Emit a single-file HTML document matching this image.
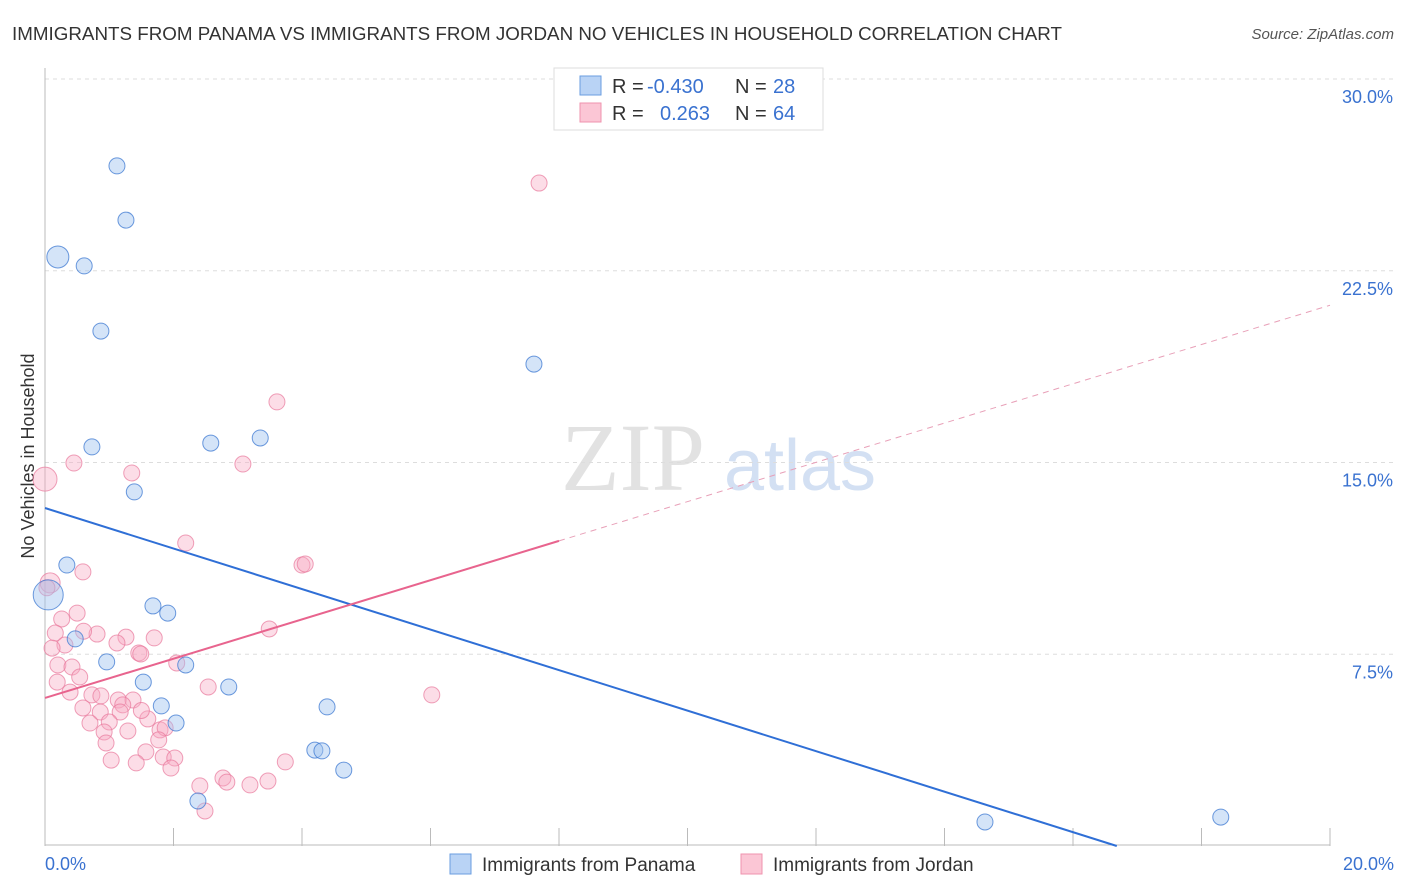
<!DOCTYPE html>
<html><head><meta charset="utf-8"><style>
body{margin:0;background:#fff;font-family:"Liberation Sans",sans-serif;}
#wrap{position:relative;width:1406px;height:892px;overflow:hidden;}
</style></head><body>
<div id="wrap">
<svg id="svg" width="1406" height="892" xmlns="http://www.w3.org/2000/svg">
<text x="12" y="40" font-size="18" fill="#333" textLength="1050" lengthAdjust="spacingAndGlyphs">IMMIGRANTS FROM PANAMA VS IMMIGRANTS FROM JORDAN NO VEHICLES IN HOUSEHOLD CORRELATION CHART</text>
<text x="1394" y="39" font-size="15" fill="#555" text-anchor="end" font-style="italic">Source: ZipAtlas.com</text>
<text transform="translate(34,456) rotate(-90)" font-size="18" fill="#333" text-anchor="middle">No Vehicles in Household</text>
<g><text x="633" y="490" font-size="96" fill="#e2e2e2" font-family="Liberation Serif,serif" text-anchor="middle">ZIP</text><text x="800" y="490" font-size="72" fill="#d3e0f3" text-anchor="middle">atlas</text></g>
<g id="grid"></g><g id="marks"></g>
<g>
<rect x="554" y="68" width="269" height="62" fill="#fff" stroke="#ddd"/>
<rect x="580" y="76" width="21" height="19" fill="#b9d3f5" stroke="#6a9ee0"/>
<rect x="580" y="103" width="21" height="19" fill="#fbc6d5" stroke="#ef93ae"/>
<g font-size="20"><text x="612" y="93" fill="#333">R =</text><text x="647" y="93" fill="#3a72d0">-0.430</text><text x="735" y="93" fill="#333">N =</text><text x="773" y="93" fill="#3a72d0">28</text>
<text x="612" y="120" fill="#333">R =</text><text x="660" y="120" fill="#3a72d0">0.263</text><text x="735" y="120" fill="#333">N =</text><text x="773" y="120" fill="#3a72d0">64</text></g>
</g>
<g>
<rect x="450" y="854" width="21" height="20" fill="#b9d3f5" stroke="#6a9ee0"/><text x="482" y="871" font-size="19" fill="#333">Immigrants from Panama</text>
<rect x="741" y="854" width="21" height="20" fill="#fbc6d5" stroke="#ef93ae"/><text x="773" y="871" font-size="19" fill="#333">Immigrants from Jordan</text>
</g>
</svg></div>
<script>
const yTicks=[7.5,15,22.5,30];
const yTickLabels=["7.5%","15.0%","22.5%","30.0%"];
const xTicks=[0,2,4,6,8,10,12,14,16,18,20];
const panamaX=[1.12,1.26,0.20,0.61,0.87,7.61,0.73,2.58,3.35,1.39,0.34,0.05,1.68,1.91,0.47,0.96,2.19,1.53,2.86,1.81,4.39,2.04,4.20,4.31,4.65,2.38,14.63,18.30];
const panamaY=[26.60,24.48,23.04,22.69,20.14,18.85,15.61,15.76,15.96,13.85,10.99,9.82,9.39,9.11,8.10,7.20,7.08,6.41,6.22,5.48,5.44,4.81,3.75,3.72,2.97,1.76,0.94,1.13];
const panamaR=[8,8,11,8,8,8,8,8,8,8,8,15,8,8,8,8,8,8,8,8,8,8,8,8,8,8,8,8];
const jordanX=[2.19,4.00,4.05,0.59,0.08,0.50,0.26,0.16,0.81,1.26,1.12,1.70,3.49,0.31,0.11,1.46,1.49,2.05,0.20,0.42,0.19,0.54,0.39,0.73,0.87,1.14,1.37,2.54,0.59,1.21,1.17,0.86,0.70,1.00,1.60,1.29,0.92,1.79,1.87,0.95,1.77,1.57,1.03,1.42,1.84,2.02,1.96,2.41,2.77,2.83,3.19,3.47,3.74,2.49,7.69,3.61,3.08,0.45,1.35,0.00,6.02,0.03,1.50,0.60];
const jordanY=[11.85,10.99,11.03,10.72,10.29,9.11,8.88,8.33,8.29,8.17,7.94,8.14,8.49,7.86,7.74,7.55,7.51,7.16,7.08,7.00,6.41,6.61,6.02,5.91,5.87,5.71,5.71,6.22,5.40,5.52,5.24,5.24,4.81,4.85,4.97,4.50,4.46,4.54,4.62,4.03,4.15,3.68,3.36,3.25,3.48,3.44,3.05,2.35,2.66,2.50,2.39,2.54,3.29,1.37,25.93,17.37,14.94,14.98,14.59,14.35,5.91,10.10,5.30,8.40];
const jordanR=[8,8,8,8,10,8,8,8,8,8,8,8,8,8,8,8,8,8,8,8,8,8,8,8,8,8,8,8,8,8,8,8,8,8,8,8,8,8,8,8,8,8,8,8,8,8,8,8,8,8,8,8,8,8,8,8,8,8,8,12,8,8,8,8];
const panamaTrend=[13.22,-0.7925];
const jordanTrend=[5.79,0.768];
const sx=v=>45+v/20*1285, sy=v=>846-v/7.5*191.75;
const NS="http://www.w3.org/2000/svg";
function mk(t,a,p){const e=document.createElementNS(NS,t);for(const k in a)e.setAttribute(k,a[k]);p.appendChild(e);return e;}
const grid=document.getElementById('grid'), marks=document.getElementById('marks');
yTicks.forEach((v,i)=>{
 const l=mk('line',{x1:45,x2:1394,y1:sy(v),y2:sy(v),stroke:'#ddd','stroke-dasharray':'4,4'},grid);
 
 
 const t=mk('text',{x:1393,y:sy(v)+24,'font-size':18,fill:'#3a72d0','text-anchor':'end'},grid);
 t.textContent=yTickLabels[i];
 
 
});
mk('line',{x1:45,x2:45,y1:68,y2:846,stroke:'#bbb'},grid);
mk('line',{x1:45,x2:1330,y1:845,y2:845,stroke:'#bbb'},grid);
xTicks.forEach(v=>{const l=mk('line',{x1:sx(v),x2:sx(v),y1:828,y2:846,stroke:'#bbb'},grid);
 
 });
let t0=mk('text',{x:45,y:870,'font-size':18,fill:'#3a72d0'},grid);t0.textContent="0.0%";


let t1=mk('text',{x:1394,y:870,'font-size':18,fill:'#3a72d0','text-anchor':'end'},grid);t1.textContent="20.0%";


jordanX.forEach((x,i)=>{const c=mk('circle',{cx:sx(x),cy:sy(jordanY[i]),r:jordanR[i],fill:'rgba(248,170,195,0.4)',stroke:'rgba(232,120,155,0.7)','stroke-width':1},marks);
 
 });
panamaX.forEach((x,i)=>{const c=mk('circle',{cx:sx(x),cy:sy(panamaY[i]),r:panamaR[i],fill:'rgba(160,195,240,0.45)',stroke:'rgba(60,120,210,0.75)','stroke-width':1},marks);
 
 });
const pEnd=-panamaTrend[0]/panamaTrend[1];
const bl=mk('line',{x1:sx(0),y1:sy(panamaTrend[0]),x2:sx(pEnd),y2:sy(0),stroke:'#2f6fd6','stroke-width':2},marks);


const pl=mk('line',{x1:sx(0),y1:sy(jordanTrend[0]),x2:sx(8),y2:sy(jordanTrend[0]+8*jordanTrend[1]),stroke:'#e8648e','stroke-width':2},marks);


const pd=mk('line',{x1:sx(8),y1:sy(jordanTrend[0]+8*jordanTrend[1]),x2:sx(20),y2:sy(jordanTrend[0]+20*jordanTrend[1]),stroke:'#e8a0b8','stroke-width':1,'stroke-dasharray':'6,5'},marks);


</script>
</body></html>
